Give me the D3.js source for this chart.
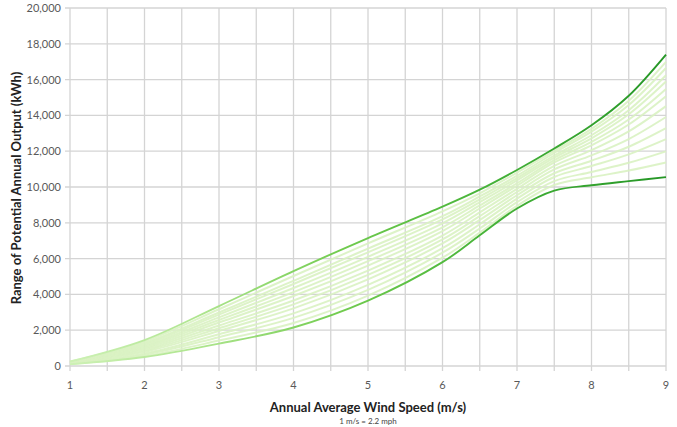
<!DOCTYPE html>
<html>
<head>
<meta charset="utf-8">
<script src="https://cdn.jsdelivr.net/npm/d3@7"></script>
<style>
  body { margin: 0; background: #fff; }
  svg { display: block; }
</style>
</head>
<body>
<div id="chart"></div>
<script>
// wind speed (m/s) sample points
var speeds = [1, 2, 3, 4, 5, 6, 6.5, 7, 7.5, 8, 8.5, 9];

// envelope curves (kWh)
var upper = [250, 1450, 3350, 5300, 7150, 8900, 9850, 10950, 12150, 13450, 15100, 17400];
var lower = [100, 500, 1250, 2150, 3650, 5800, 7300, 8800, 9800, 10100, 10330, 10550];

// in-between curves, top to bottom
var mid1  = [240, 1370, 3170, 5030, 6850, 8640, 9650, 10800, 12020, 13250, 14820, 16990];
var mid2  = [225, 1290, 2990, 4760, 6560, 8370, 9470, 10630, 11900, 13090, 14580, 16650];
var mid3  = [215, 1220, 2870, 4580, 6350, 8190, 9310, 10500, 11760, 12890, 14290, 16240];
var mid4  = [205, 1150, 2720, 4360, 6100, 7970, 9150, 10370, 11640, 12720, 14060, 15890];
var mid5  = [195, 1080, 2570, 4130, 5860, 7750, 8970, 10210, 11500, 12520, 13770, 15480];
var mid6  = [185, 1010, 2430, 3910, 5610, 7540, 8800, 10070, 11370, 12330, 13490, 15070];
var mid7  = [170, 930, 2260, 3660, 5330, 7290, 8580, 9900, 11180, 12060, 13110, 14520];
var mid8  = [160, 860, 2110, 3440, 5090, 7070, 8370, 9720, 10980, 11770, 12680, 13910];
var mid9  = [150, 790, 1960, 3220, 4840, 6850, 8160, 9540, 10770, 11470, 12250, 13290];
var mid10 = [140, 700, 1775, 2940, 4530, 6580, 7920, 9350, 10560, 11170, 11820, 12670];
var mid11 = [125, 630, 1610, 2690, 4250, 6330, 7680, 9150, 10330, 10840, 11350, 11990];
var mid12 = [110, 560, 1420, 2400, 3930, 6050, 7450, 8950, 10110, 10540, 10920, 11370];

var xTicks = [1, 2, 3, 4, 5, 6, 7, 8, 9];
var yTicks = [0, 2000, 4000, 6000, 8000, 10000, 12000, 14000, 16000, 18000, 20000];

var width = 677, height = 427;
var plotLeft = 70, plotRight = 666, plotTop = 8, plotBottom = 366;

var svg = d3.select('#chart').append('svg')
  .attr('width', width)
  .attr('height', height);

var x = d3.scaleLinear().domain([1, 9]).range([plotLeft, plotRight]);
var y = d3.scaleLinear().domain([0, 20000]).range([plotBottom, plotTop]);

// gradient for the two edge curves, pale on the left, deep green on the right
var defs = svg.append('defs');
var grad = defs.append('linearGradient')
  .attr('id', 'edge')
  .attr('gradientUnits', 'userSpaceOnUse')
  .attr('x1', plotLeft).attr('x2', plotRight)
  .attr('y1', 0).attr('y2', 0);
grad.append('stop').attr('offset', '0%').attr('stop-color', '#cdf1b5');
grad.append('stop').attr('offset', '22%').attr('stop-color', '#aee58e');
grad.append('stop').attr('offset', '45%').attr('stop-color', '#72cc4f');
grad.append('stop').attr('offset', '70%').attr('stop-color', '#46b338');
grad.append('stop').attr('offset', '100%').attr('stop-color', '#259626');

// grid: vertical every 0.5, horizontal every 2000
var vGrid = d3.range(2, 19).map(function(d) { return d / 2; });
svg.append('g').selectAll('line')
  .data(vGrid).enter().append('line')
  .attr('x1', function(d) { return x(d); })
  .attr('x2', function(d) { return x(d); })
  .attr('y1', plotTop).attr('y2', plotBottom + 5)
  .attr('stroke', '#d4d4d4')
  .attr('stroke-width', 1.3);

svg.append('g').selectAll('line')
  .data(yTicks).enter().append('line')
  .attr('x1', plotLeft - 5).attr('x2', plotRight)
  .attr('y1', function(d) { return y(d); })
  .attr('y2', function(d) { return y(d); })
  .attr('stroke', '#d4d4d4')
  .attr('stroke-width', 1.3);

var line = d3.line()
  .x(function(d, i) { return x(speeds[i]); })
  .y(function(d) { return y(d); })
  .curve(d3.curveCatmullRom.alpha(0.5));

var mids = [mid1, mid2, mid3, mid4, mid5, mid6, mid7, mid8, mid9, mid10, mid11, mid12];

svg.append('g').selectAll('path')
  .data(mids).enter().append('path')
  .attr('d', line)
  .attr('fill', 'none')
  .attr('stroke', '#d9f2c2')
  .attr('stroke-width', 2)
  .attr('opacity', 0.9);

svg.append('g').selectAll('path')
  .data([upper, lower]).enter().append('path')
  .attr('d', line)
  .attr('fill', 'none')
  .attr('stroke', 'url(#edge)')
  .attr('stroke-width', 1.9);

// tick labels
var font = 'Lato, "Open Sans", sans-serif';
svg.append('g').selectAll('text')
  .data(yTicks).enter().append('text')
  .attr('x', plotLeft - 9)
  .attr('y', function(d) { return y(d) + 4; })
  .attr('text-anchor', 'end')
  .attr('font-family', font)
  .attr('font-size', '11px')
  .attr('fill', '#595959')
  .text(function(d) { return d3.format(',')(d); });

svg.append('g').selectAll('text')
  .data(xTicks).enter().append('text')
  .attr('x', function(d) { return x(d); })
  .attr('y', plotBottom + 23)
  .attr('text-anchor', 'middle')
  .attr('font-family', font)
  .attr('font-size', '11px')
  .attr('fill', '#595959')
  .text(function(d) { return d; });

// axis titles
svg.append('text')
  .attr('x', 368).attr('y', 412)
  .attr('text-anchor', 'middle')
  .attr('font-family', font)
  .attr('font-weight', 'bold')
  .attr('font-size', '13px')
  .attr('fill', '#222')
  .text('Annual Average Wind Speed (m/s)');

svg.append('text')
  .attr('x', 368).attr('y', 424)
  .attr('text-anchor', 'middle')
  .attr('font-family', font)
  .attr('font-size', '8px')
  .attr('fill', '#444')
  .text('1 m/s = 2.2 mph');

svg.append('text')
  .attr('transform', 'translate(21,188) rotate(-90)')
  .attr('text-anchor', 'middle')
  .attr('font-family', font)
  .attr('font-weight', 'bold')
  .attr('font-size', '13px')
  .attr('fill', '#222')
  .text('Range of Potential Annual Output (kWh)');
</script>
</body>
</html>
